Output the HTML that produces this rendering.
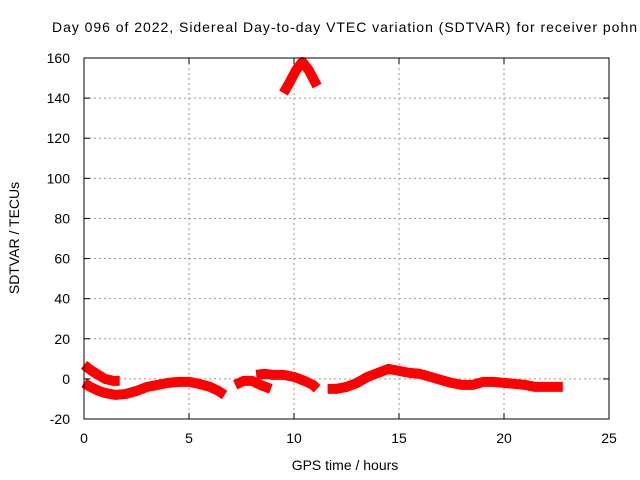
<!DOCTYPE html>
<html><head><meta charset="utf-8"><style>
body{margin:0;background:#fff}
svg{display:block;font-family:"Liberation Sans",sans-serif}
</style></head><body>
<svg id="c" width="640" height="480">
<text x="52" y="32" font-size="14" textLength="585" lengthAdjust="spacing">Day 096 of 2022, Sidereal Day-to-day VTEC variation (SDTVAR) for receiver pohn</text>
<g id="grid"></g>
<g id="series"></g>
<rect x="84" y="58" width="525" height="361" fill="none" stroke="#000" stroke-width="1"/>
<g id="ticks" font-size="14"></g>
<text x="345" y="470" font-size="14" text-anchor="middle">GPS time / hours</text>
<text transform="translate(19,238) rotate(-90)" font-size="14" text-anchor="middle">SDTVAR / TECUs</text>
</svg>
<script>
const xTicks=[0,5,10,15,20,25];
const yTicks=[-20,0,20,40,60,80,100,120,140,160];
const seg1X=[0,0.3,0.6,1,1.4,1.7];
const seg1Y=[7,4.5,2.5,0,-1,-1];
const seg2X=[0,0.3,0.7,1,1.5,2,2.5,3,3.5,4,4.5,5,5.5,6,6.4,6.7];
const seg2Y=[-2,-4,-6,-7,-8,-7.5,-6,-4,-3,-2,-1.5,-1.5,-2.5,-4,-6,-8];
const seg3X=[7.2,7.6,8,8.4,8.9];
const seg3Y=[-3,-1,-1,-3,-5];
const seg4X=[8.2,8.6,9,9.5,10,10.5,10.9,11.1];
const seg4Y=[2,2.5,2,2,1,-1,-3,-5];
const seg5X=[9.5,9.8,10.1,10.4,10.7,10.9,11.1];
const seg5Y=[142.5,148,154,158,154,150,146];
const seg6X=[11.6,12,12.5,13,13.5,14,14.5,15,15.5,16,16.5,17,17.5,18,18.5,19,19.5,20,20.5,21,21.5,22,22.8];
const seg6Y=[-5,-5,-4,-2,1,3,5,4,3,2.5,1,-0.5,-2,-3,-3,-1.5,-1.5,-2,-2.5,-3,-4,-4,-4];
const X=h=>84+h*21, Y=v=>419-(v+20)*361/180;
const NS='http://www.w3.org/2000/svg';
const g=document.getElementById('grid'),t=document.getElementById('ticks'),s=document.getElementById('series');
function mk(tag,at,p){const e=document.createElementNS(NS,tag);for(const k in at)e.setAttribute(k,at[k]);p.appendChild(e);return e;}
xTicks.forEach(v=>{
 if(v>0&&v<25){const l=mk('line',{x1:X(v),x2:X(v),y1:58,y2:419,stroke:'#999','stroke-dasharray':'2,3'},g);
 
 }
 const tx=mk('text',{x:X(v),y:443,'text-anchor':'middle'},t);tx.textContent=v;
 
 
 mk('line',{x1:X(v),x2:X(v),y1:419,y2:413,stroke:'#000'},t);mk('line',{x1:X(v),x2:X(v),y1:58,y2:64,stroke:'#000'},t);
});
yTicks.forEach(v=>{
 if(v>-20&&v<160){const l=mk('line',{x1:84,x2:609,y1:Y(v),y2:Y(v),stroke:'#999','stroke-dasharray':'2,3'},g);
 
 }
 const tx=mk('text',{x:70,y:Y(v)+5,'text-anchor':'end'},t);tx.textContent=v;
 
 
 mk('line',{x1:84,x2:90,y1:Y(v),y2:Y(v),stroke:'#000'},t);mk('line',{x1:609,x2:603,y1:Y(v),y2:Y(v),stroke:'#000'},t);
});
[[seg1X,seg1Y],[seg2X,seg2Y],[seg3X,seg3Y],[seg4X,seg4Y],[seg5X,seg5Y],[seg6X,seg6Y]].forEach(([xs,ys])=>{
 const p=mk('polyline',{points:xs.map((x,i)=>X(x)+','+Y(ys[i])).join(' '),fill:'none',stroke:'#f00','stroke-width':10,'stroke-linejoin':'round'},s);
 
 
});
</script>
</body></html>
